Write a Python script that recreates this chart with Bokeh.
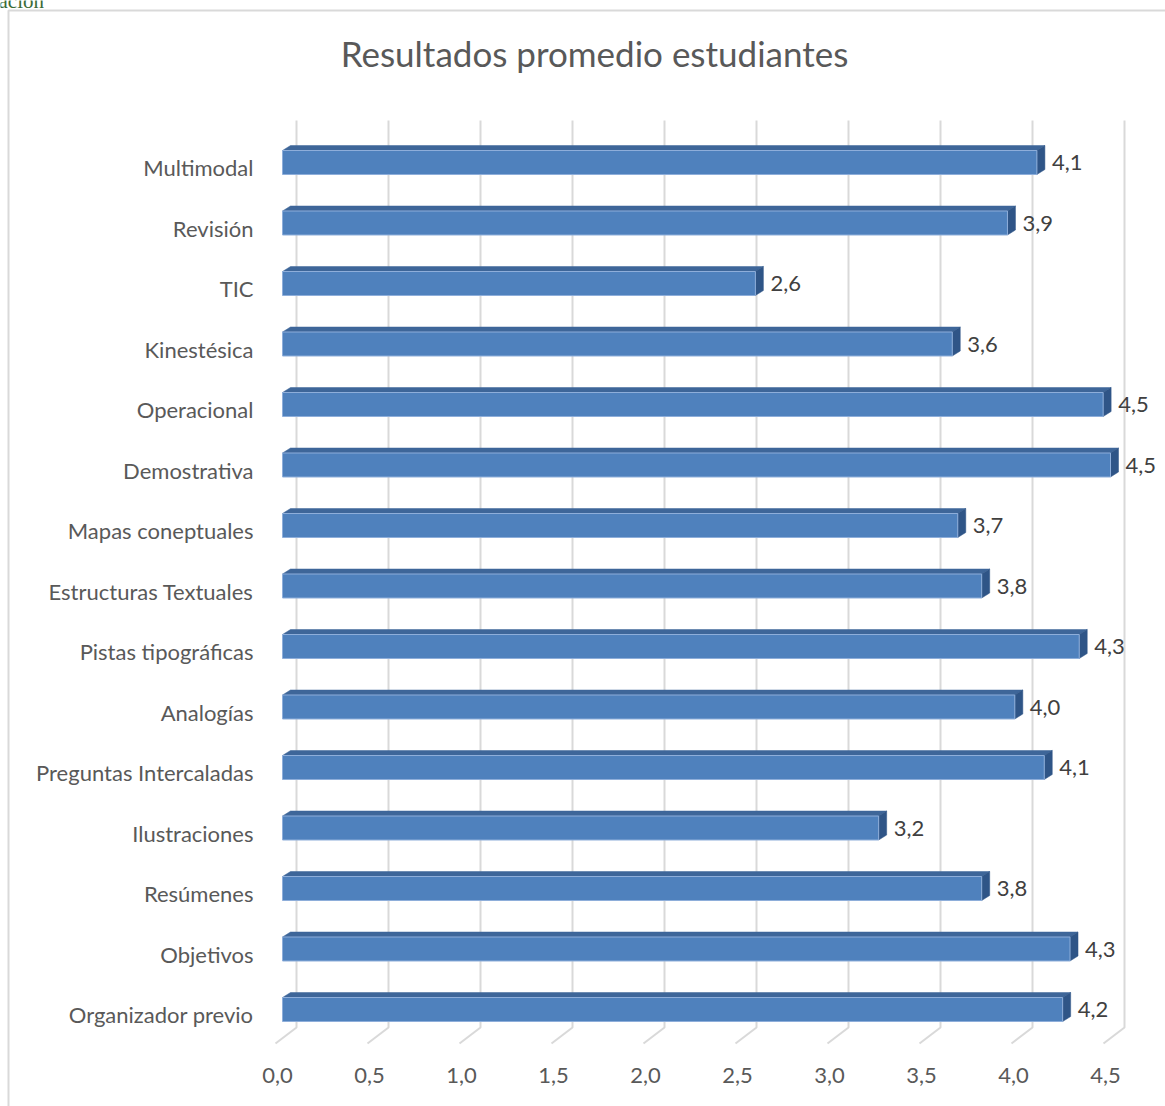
from bokeh.plotting import figure
from bokeh.models import Range1d, ColumnDataSource
from bokeh.embed import file_html
from bokeh.resources import INLINE
from bokeh.core.properties import value

# ---------------- data ----------------
categories = ["Multimodal", "Revisión", "TIC", "Kinestésica", "Operacional",
              "Demostrativa", "Mapas coneptuales", "Estructuras Textuales",
              "Pistas tipográficas", "Analogías", "Preguntas Intercaladas",
              "Ilustraciones", "Resúmenes", "Objetivos", "Organizador previo"]
scores = [4.10, 3.94, 2.57, 3.64, 4.46, 4.50, 3.67, 3.80, 4.33, 3.98, 4.14,
          3.24, 3.80, 4.28, 4.24]
x_ticks = [0.0, 0.5, 1.0, 1.5, 2.0, 2.5, 3.0, 3.5, 4.0, 4.5]
title_text = "Resultados promedio estudiantes"
corner_text = "ación"

# ---------------- layout (pixels) ----------------
W, H = 1165, 1106
X0, XS = 282.0, 184.0      # pixel of value 0, pixels per unit
Y0, YS = 1009.0, 60.5      # pixel of lowest bar centre, pixels per category
FONT = "Lato"
GREY_TXT = "#595959"

def xd(px):
    return (px - X0) / XS

def yd(px):
    return (Y0 - px) / YS

def dxu(px):
    return px / XS

def dyu(px):
    return px / YS

p = figure(width=W, height=H, output_backend="svg", toolbar_location=None,
           x_range=Range1d(xd(0), xd(W)), y_range=Range1d(yd(H), yd(0)),
           x_axis_type=None, y_axis_type=None, title=None,
           min_border=0, min_border_left=0, min_border_right=0,
           min_border_top=0, min_border_bottom=0)
p.outline_line_color = None
p.background_fill_color = "white"
p.border_fill_color = "white"

n = len(categories)
pos = [n - 1 - i for i in range(n)]   # first category at the top

# outer chart border (left and top edges visible)
p.line(x=[xd(8), xd(8), xd(W + 20)], y=[yd(H + 20), yd(10), yd(10)],
       line_color="#D9D9D9", line_width=2)

# 3-D style gridlines (back wall + floor)
gx, gy = [], []
for t in x_ticks:
    gx.append([t - dxu(7), t + dxu(14), t + dxu(14)])
    gy.append([yd(1043), yd(1027), yd(120)])
p.multi_line(gx, gy, line_color="#D9D9D9", line_width=2)

# x tick labels (front edge of floor)
p.text(x=[t - dxu(5) for t in x_ticks], y=[yd(1075)] * len(x_ticks),
       text=[f"{t:.1f}".replace(".", ",") for t in x_ticks],
       text_align="center", text_baseline="middle", text_font=value(FONT),
       text_font_size="22px", text_color=GREY_TXT)

# category labels
p.text(x=[-dxu(29)] * n, y=[k - dyu(5) for k in pos], text=categories,
       text_align="right", text_baseline="middle", text_font=value(FONT),
       text_font_size="22px", text_color=GREY_TXT)

# bars (3-D look: front face, top face, side face)
half = dyu(12)
ddx, ddy = dxu(8), dyu(5)
bot = [k - half for k in pos]
top = [k + half for k in pos]

top_xs = [[0, v, v + ddx, ddx] for v in scores]
top_ys = [[t, t, t + ddy, t + ddy] for t in top]
side_xs = [[v, v + ddx, v + ddx, v] for v in scores]
side_ys = [[b, b + ddy, t + ddy, t] for b, t in zip(bot, top)]
p.patches(top_xs, top_ys, fill_color="#3E6699", line_color="#3E6699", line_width=0.5)
p.patches(side_xs, side_ys, fill_color="#2F5587", line_color="#2F5587", line_width=0.5)

src = ColumnDataSource(dict(y=pos, bottom=bot, top=top, right=scores,
                            label=[f"{v:.1f}".replace(".", ",") for v in scores],
                            lx=[v + dxu(15) for v in scores]))
p.quad(left=0, right="right", bottom="bottom", top="top", source=src,
       fill_color="#4F81BD", line_color="#8EAEDA", line_width=1)
p.text(x="lx", y="y", text="label", source=src, text_baseline="middle",
       text_align="left", text_font=value(FONT), text_font_size="22px",
       text_color="#404040")

# title
p.text(x=[xd(594)], y=[yd(52)], text=[title_text], text_align="center",
       text_baseline="middle", text_font=value(FONT), text_font_size="35px",
       text_color=GREY_TXT)

# fragment of the surrounding document's heading (cut at the top edge)
p.text(x=[xd(-2)], y=[yd(0)], text=[corner_text], text_align="left",
       text_baseline="middle", text_font=value("Liberation Serif"),
       text_font_size="21px", text_color="#3B6B36")

open("out.html", "w").write(file_html(p, INLINE))
